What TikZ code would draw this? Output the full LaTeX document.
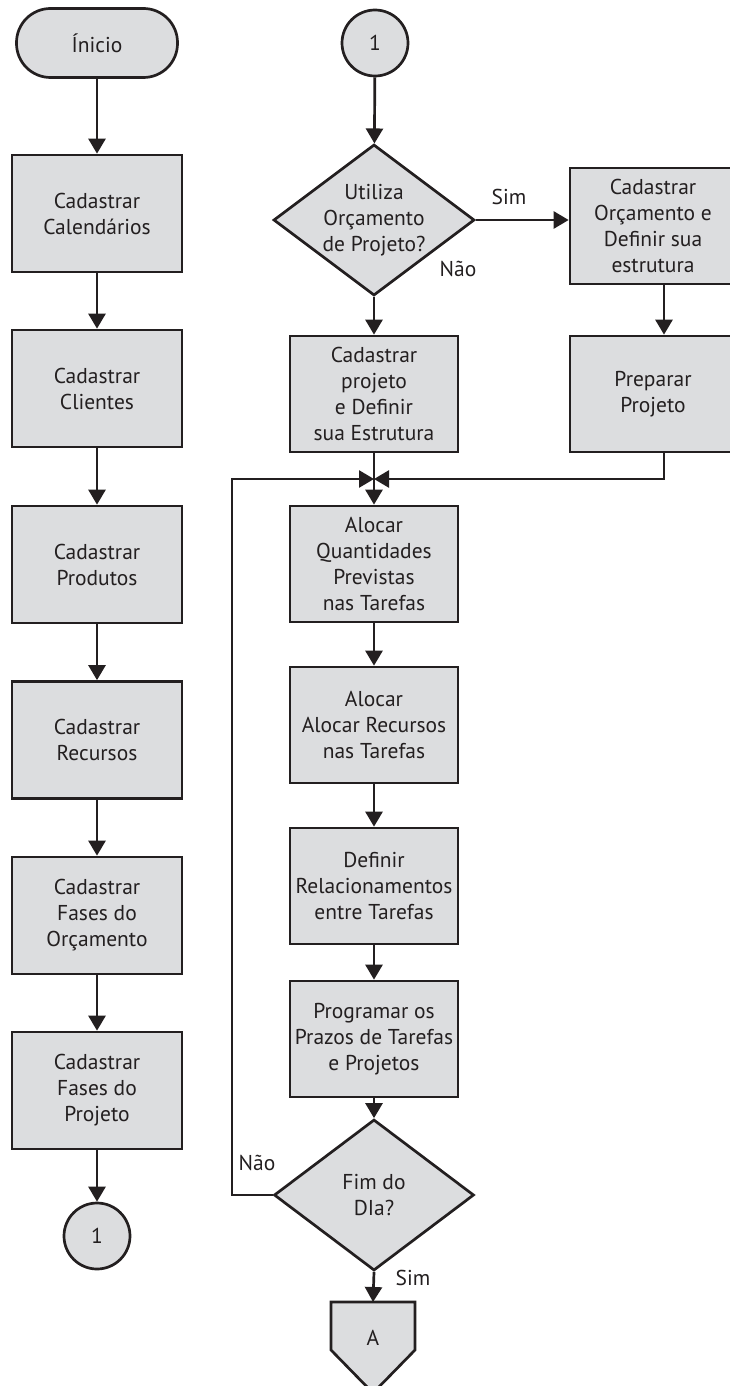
\documentclass[tikz,border=0pt]{standalone}
\usepackage{fontspec}
\setmainfont{PT Sans}
\usetikzlibrary{arrows.meta,shapes.geometric,calc}
\definecolor{boxfill}{RGB}{220,221,223}
\definecolor{ink}{RGB}{35,31,32}
\begin{document}
\begin{tikzpicture}[x=1pt,y=-1pt,
  every node/.style={font=\fontsize{21.5}{26}\selectfont, text=ink},
  proc/.style={rectangle, draw=ink, fill=boxfill, line width=2.7pt, minimum width=168pt, minimum height=117pt, align=center, inner sep=2pt},
  startbox/.style={rectangle, rounded corners=34pt, draw=ink, fill=boxfill, line width=2.7pt, minimum width=161pt, minimum height=69pt, inner sep=0pt},
  conn/.style={circle, draw=ink, fill=boxfill, line width=2.7pt, minimum size=66pt, inner sep=0pt},
  dia/.style={diamond, draw=ink, fill=boxfill, line width=2.7pt, minimum width=201pt, minimum height=151pt, inner sep=0pt},
  arr/.style={draw=ink, line width=2.7pt, -{Triangle[length=15pt,width=17pt]}},
  plain/.style={draw=ink, line width=2.7pt},
  lbl/.style={inner sep=0pt}
]
\useasboundingbox (0,0) rectangle (730,1386);

% left column
\node[startbox] (ini) at (97,43) {Ínicio};
\node[proc, minimum width=170pt] (cal) at (97,213.5) {Cadastrar\\Calendários};
\node[proc, minimum width=170pt] (cli) at (97,388.5) {Cadastrar\\Clientes};
\node[proc, minimum width=170pt] (prod) at (97,564.5) {Cadastrar\\Produtos};
\node[proc, minimum width=170pt] (rec) at (97,740) {Cadastrar\\Recursos};
\node[proc, minimum width=170pt] (fo) at (97,915.5) {Cadastrar\\Fases do\\Orçamento};
\node[proc, minimum width=170pt] (fp) at (97,1090.5) {Cadastrar\\Fases do\\Projeto};
\node[conn] (c1a) at (97,1236) {1};

\draw[arr] (ini) -- (cal);
\draw[arr] (cal) -- (cli);
\draw[arr] (cli) -- (prod);
\draw[arr] (prod) -- (rec);
\draw[arr] (rec) -- (fo);
\draw[arr] (fo) -- (fp);
\draw[arr] (fp) -- (c1a);

% right column
\node[conn] (c1b) at (375,43) {1};
\node[dia, label={[align=center]center:Utiliza\\Orçamento\\de Projeto?}] (d1) at (374,220) {};
\node[proc, minimum width=166pt, minimum height=116pt] (co) at (653,226) {Cadastrar\\Orçamento e\\Definir sua\\estrutura};
\node[proc, minimum width=166pt, minimum height=116pt] (pp) at (653,394) {Preparar\\Projeto};
\node[proc, minimum height=116pt] (cp) at (374,394) {Cadastrar\\projeto\\e Definir\\sua Estrutura};
\coordinate (m) at (374,479);
\coordinate (loopc) at (232,479);
\coordinate (rx) at (664,300);
\node[proc, minimum height=116pt] (aq) at (374,564) {Alocar\\Quantidades\\Previstas\\nas Tarefas};
\node[proc, minimum height=116pt] (ar) at (374,725) {Alocar\\Alocar Recursos\\nas Tarefas};
\node[proc, minimum height=116pt] (dr) at (374,886) {Definir\\Relacionamentos\\entre Tarefas};
\node[proc, minimum height=116pt] (pg) at (374,1039) {Programar os\\Prazos de Tarefas\\e Projetos};
\node[dia, minimum width=200pt, label={[align=center]center:Fim do\\DIa?}] (d2) at (374,1195) {};
\coordinate (atop) at (373,1302);
\draw[plain, fill=boxfill] (331,1302) -- (415,1302) -- (415,1350) -- (373,1393) -- (331,1350) -- cycle;
\node (offA) at (373,1338) {A};

\draw[arr] (c1b) -- (d1);
\draw[arr] (d1.east) -- (d1.east -| co.west);
\draw[arr] (d1.south) -- (cp.north);
\draw[arr] (co.south -| rx) -- (pp.north -| rx);
\draw[arr] (cp.south) -- (aq.north);
\draw[arr] (pp.south -| rx) |- (m);
\draw[arr] (d2.west) -| (loopc) -- (m);
\draw[arr] (aq) -- (ar);
\draw[arr] (ar) -- (dr);
\draw[arr] (dr) -- (pg);
\draw[arr] (pg) -- (d2);
\draw[arr] (d2.south) -- (atop);

% labels
\node[lbl] at (509,197) {Sim};
\node[lbl] at (458,269) {Não};
\node[lbl] at (257,1163) {Não};
\node[lbl] at (413,1278) {Sim};
\end{tikzpicture}
\end{document}
